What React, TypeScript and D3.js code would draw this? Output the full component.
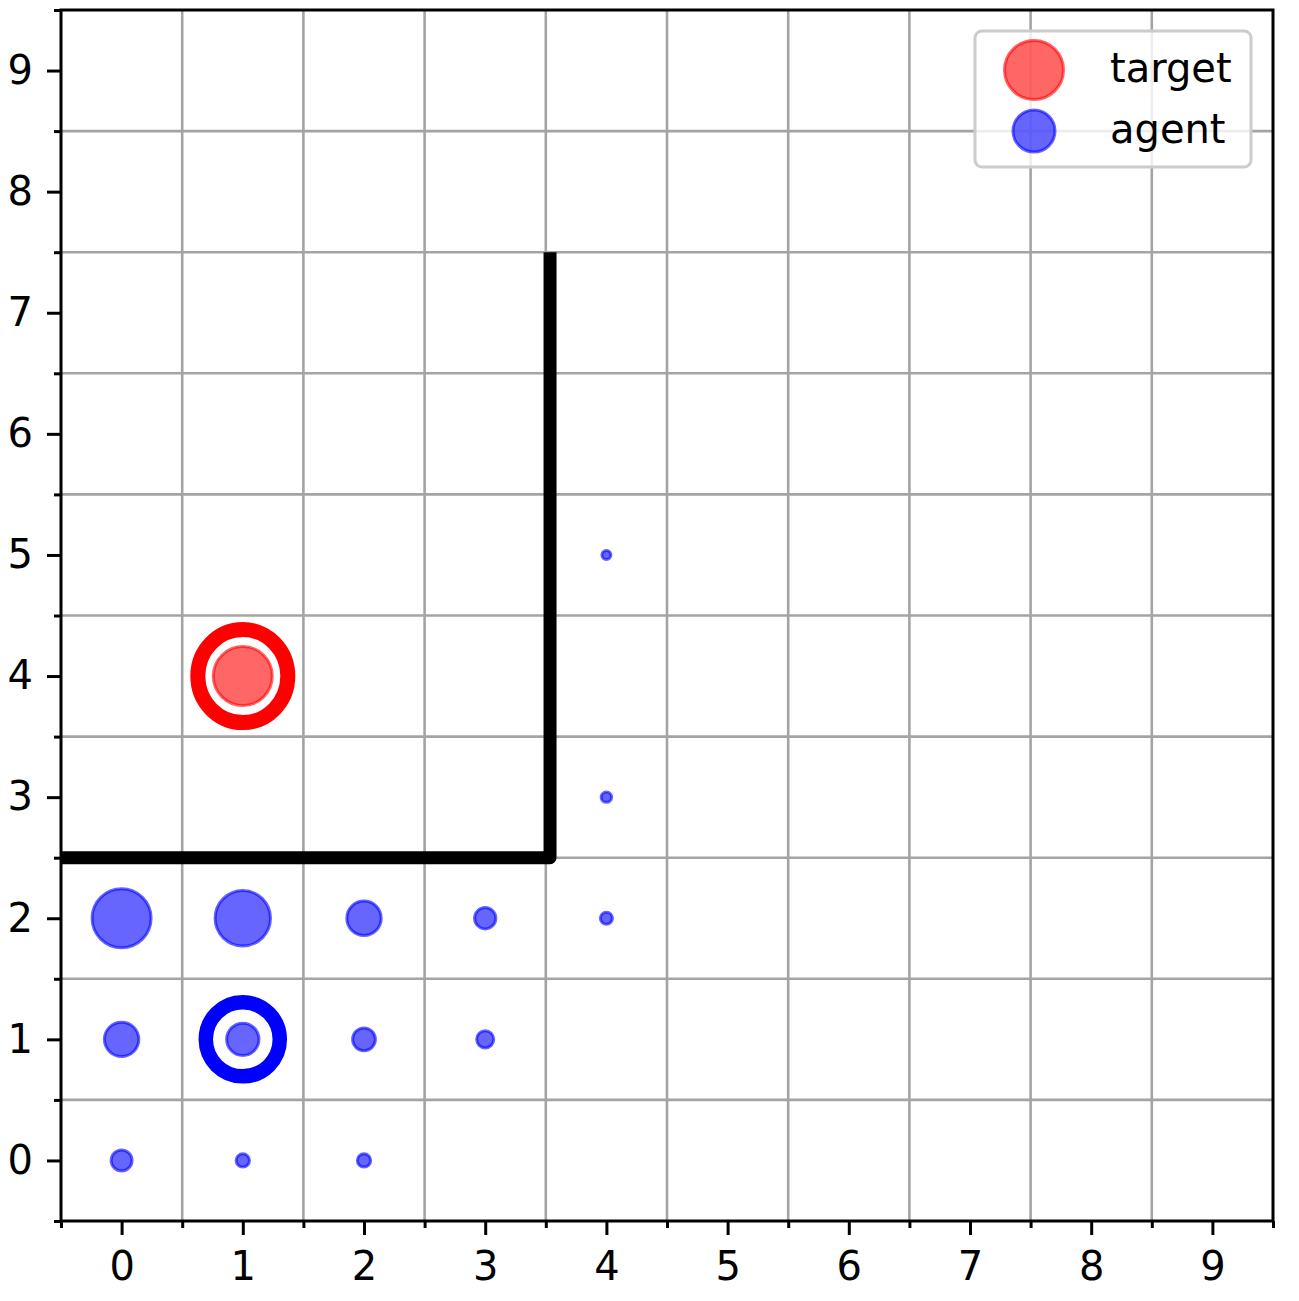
import React, { useEffect, useRef } from 'react'
import * as d3 from 'd3'

// grid world cells
const xTicks = [0, 1, 2, 3, 4, 5, 6, 7, 8, 9]
const yTicks = [0, 1, 2, 3, 4, 5, 6, 7, 8, 9]

// visited cells of the agent and how often
const agentX = [0, 1, 2, 3, 4, 0, 1, 2, 3, 0, 1, 2, 4, 4]
const agentY = [2, 2, 2, 2, 2, 1, 1, 1, 1, 0, 0, 0, 3, 5]
const agentVisits = [100, 88, 34, 13, 4.2, 34, 30, 15, 8.4, 12.6, 5.1, 5.1, 3.1, 2.3]

const targetPos = [1, 4]
const agentStart = [1, 1]

// wall polyline
const wallX = [-0.5, 3.535, 3.535]
const wallY = [2.5, 2.5, 7.5]

const legendLabels = ['target', 'agent']

const App: React.FC = () => {
  const svgRef = useRef<SVGSVGElement | null>(null)

  useEffect(() => {
    if (!svgRef.current) return
    const svg = d3.select(svgRef.current)
    svg.selectAll('*').remove()

    const width = 1299
    const height = 1301
    const margin = { top: 10, right: 26, bottom: 80, left: 61 }
    const font = 'DejaVu Sans, sans-serif'

    const x = d3
      .scaleLinear()
      .domain([-0.5, 9.5])
      .range([margin.left, width - margin.right])
    const y = d3
      .scaleLinear()
      .domain([-0.5, 9.5])
      .range([height - margin.bottom, margin.top])
    const r = d3.scaleSqrt().domain([0, 100]).range([0, 29.5])

    svg.attr('width', width).attr('height', height).attr('viewBox', [0, 0, width, height])

    svg.append('rect').attr('width', width).attr('height', height).attr('fill', 'white')

    const halfTicks = d3.range(-0.5, 10, 1)

    // grid on minor ticks
    const grid = svg.append('g').attr('stroke', '#a4a4a4').attr('stroke-width', 2.6)
    grid
      .selectAll('line.gx')
      .data(halfTicks.slice(1, -1))
      .join('line')
      .attr('x1', d => x(d))
      .attr('x2', d => x(d))
      .attr('y1', y(-0.5))
      .attr('y2', y(9.5))
    grid
      .selectAll('line.gy')
      .data(halfTicks.slice(1, -1))
      .join('line')
      .attr('class', 'gy')
      .attr('y1', d => y(d))
      .attr('y2', d => y(d))
      .attr('x1', x(-0.5))
      .attr('x2', x(9.5))

    // agent visits
    svg
      .append('g')
      .selectAll('circle')
      .data(agentX.map((d, i) => ({ x: d, y: agentY[i], v: agentVisits[i] })))
      .join('circle')
      .attr('cx', d => x(d.x))
      .attr('cy', d => y(d.y))
      .attr('r', d => r(d.v))
      .attr('fill', 'blue')
      .attr('fill-opacity', 0.6)
      .attr('stroke', 'blue')
      .attr('stroke-opacity', 0.6)
      .attr('stroke-width', 3)

    // target
    svg
      .append('circle')
      .attr('cx', x(targetPos[0]))
      .attr('cy', y(targetPos[1]))
      .attr('r', 29.5)
      .attr('fill', 'red')
      .attr('fill-opacity', 0.6)
      .attr('stroke', 'red')
      .attr('stroke-opacity', 0.6)
      .attr('stroke-width', 3)

    // rings
    svg
      .append('ellipse')
      .attr('cx', x(targetPos[0]))
      .attr('cy', y(targetPos[1]))
      .attr('rx', 45)
      .attr('ry', 46.5)
      .attr('fill', 'none')
      .attr('stroke', 'red')
      .attr('stroke-width', 15)
    svg
      .append('circle')
      .attr('cx', x(agentStart[0]))
      .attr('cy', y(agentStart[1]))
      .attr('r', 37)
      .attr('fill', 'none')
      .attr('stroke', 'blue')
      .attr('stroke-width', 14.5)

    // wall
    const line = d3
      .line<number>()
      .x(d => x(d))
      .y((d, i) => y(wallY[i]))
    svg
      .append('path')
      .attr('d', line(wallX))
      .attr('fill', 'none')
      .attr('stroke', 'black')
      .attr('stroke-width', 13)
      .attr('stroke-linejoin', 'round')

    // axes
    const xAxis = svg.append('g').attr('transform', `translate(0,${y(-0.5)})`)
    xAxis
      .call(d3.axisBottom(x).tickValues(halfTicks).tickSize(7).tickFormat(() => ''))
      .call(g => g.select('.domain').remove())
    const xMajor = svg.append('g').attr('transform', `translate(0,${y(-0.5)})`)
    xMajor
      .call(d3.axisBottom(x).tickValues(xTicks).tickSize(14).tickPadding(16).tickFormat(d3.format('d')))
      .call(g => g.select('.domain').remove())
    const yAxis = svg.append('g').attr('transform', `translate(${x(-0.5)},0)`)
    yAxis
      .call(d3.axisLeft(y).tickValues(halfTicks).tickSize(7).tickFormat(() => ''))
      .call(g => g.select('.domain').remove())
    const yMajor = svg.append('g').attr('transform', `translate(${x(-0.5)},0)`)
    yMajor
      .call(d3.axisLeft(y).tickValues(yTicks).tickSize(14).tickPadding(14).tickFormat(d3.format('d')))
      .call(g => g.select('.domain').remove())

    svg
      .selectAll('.tick line')
      .attr('stroke', 'black')
      .attr('stroke-width', 3)
    svg
      .selectAll('.tick text')
      .attr('fill', 'black')
      .style('font-family', font)
      .style('font-size', '40px')
    xMajor.selectAll('.tick text').attr('dy', '0.71em').attr('y', 31)

    // spines
    svg
      .append('rect')
      .attr('x', x(-0.5))
      .attr('y', y(9.5))
      .attr('width', x(9.5) - x(-0.5))
      .attr('height', y(-0.5) - y(9.5))
      .attr('fill', 'none')
      .attr('stroke', 'black')
      .attr('stroke-width', 3)

    // legend
    const lg = svg.append('g')
    lg.append('rect')
      .attr('x', 975)
      .attr('y', 31)
      .attr('width', 276)
      .attr('height', 136)
      .attr('rx', 7)
      .attr('fill', 'white')
      .attr('fill-opacity', 0.8)
      .attr('stroke', '#cccccc')
      .attr('stroke-width', 3)
    const legendColors = ['red', 'blue']
    const legendR = [29.5, 21]
    legendLabels.forEach((label, i) => {
      const cy = 70 + i * 61
      lg.append('circle')
        .attr('cx', 1034)
        .attr('cy', cy)
        .attr('r', legendR[i])
        .attr('fill', legendColors[i])
        .attr('fill-opacity', 0.6)
        .attr('stroke', legendColors[i])
        .attr('stroke-opacity', 0.6)
        .attr('stroke-width', 3)
      lg.append('text')
        .attr('x', 1110)
        .attr('y', cy + 12)
        .style('font-family', font)
        .style('font-size', '40px')
        .text(label)
    })
  }, [])

  return (
    <svg
      ref={svgRef}
      style={{ position: 'absolute', left: 0, top: 0, display: 'block' }}
    ></svg>
  )
}

export default App
